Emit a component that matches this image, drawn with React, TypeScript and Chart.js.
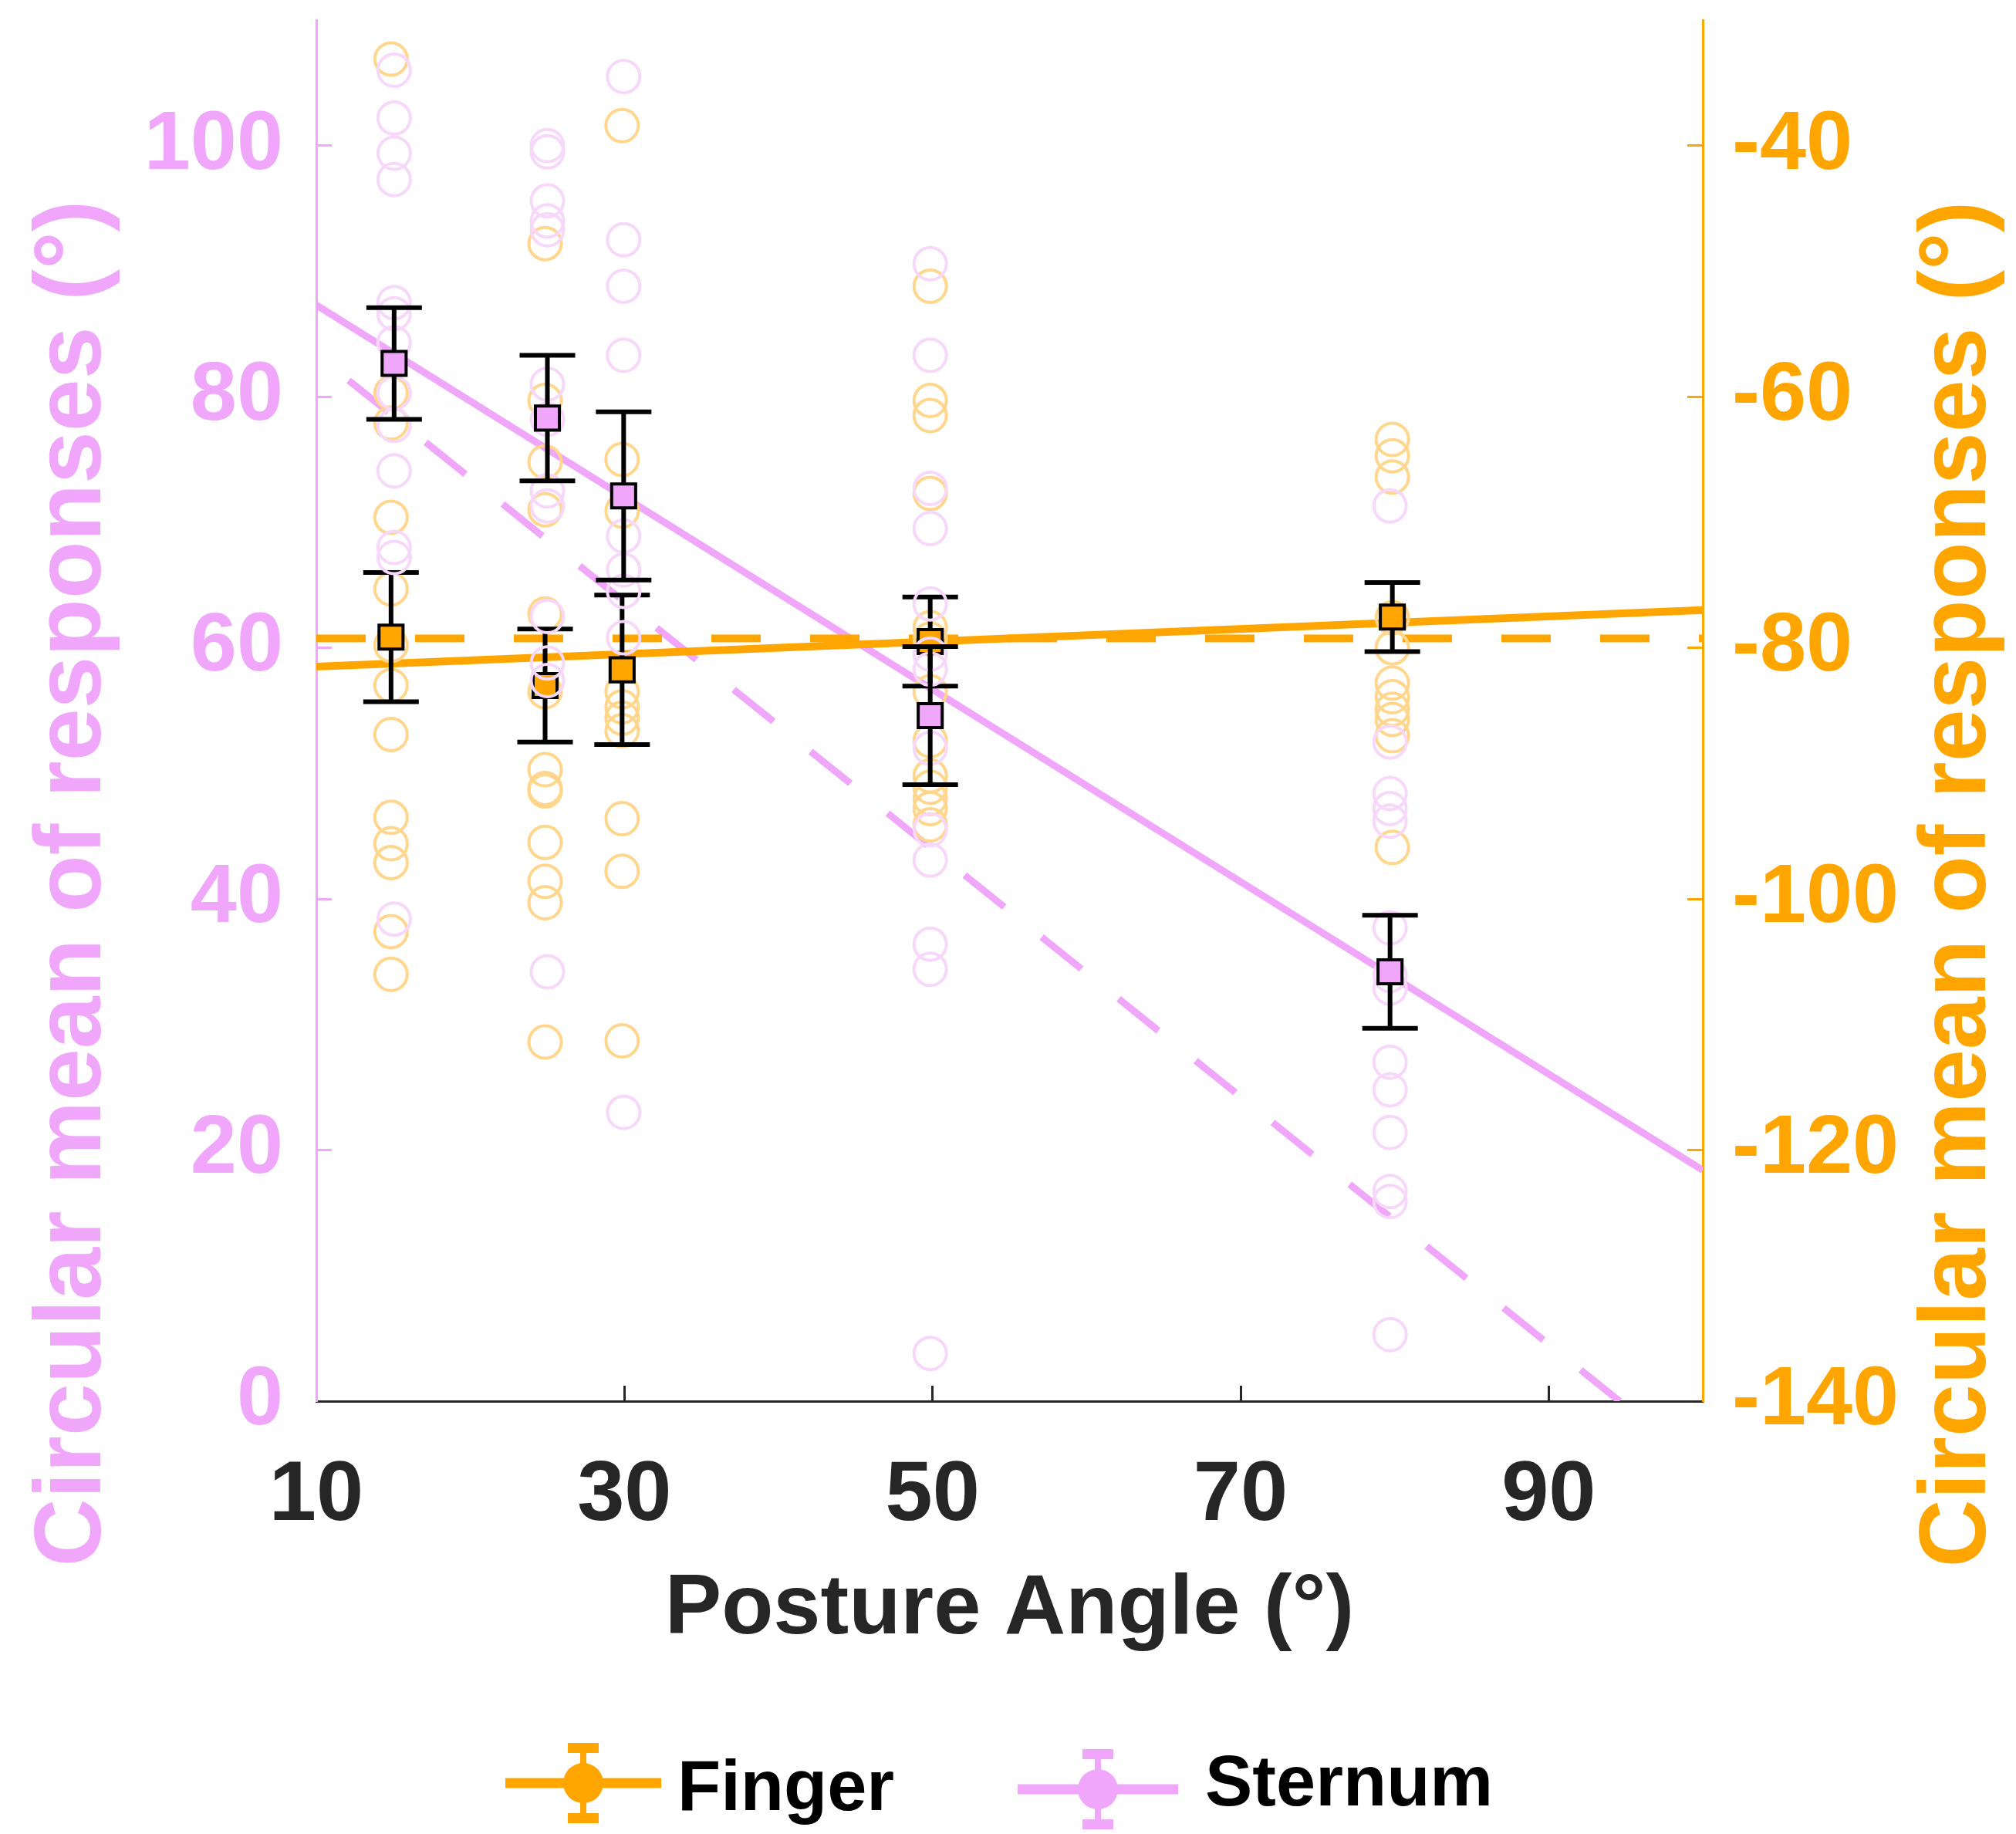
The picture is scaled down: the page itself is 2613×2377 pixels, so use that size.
import React, { useEffect, useRef } from 'react';
import { Chart, registerables } from 'chart.js';

Chart.register(...registerables);

const FONT = '"Liberation Sans", Arial, Helvetica, sans-serif';
const PINK = 'rgb(240,166,250)';
const ORANGE = 'rgb(255,165,0)';
const PINK_LIGHT = '#F7D8FB';
const ORANGE_LIGHT = '#FFD68C';
const DARK = '#262626';

// Axis ticks
const xTicks = [10, 30, 50, 70, 90];
const leftTicks = [0, 20, 40, 60, 80, 100];
const rightTicks = [-140, -120, -100, -80, -60, -40];

// Posture angles (slightly offset per series as in the figure)
const fingerX = [14.85, 24.85, 29.85, 49.85, 79.85];
const sternumX = [15.05, 25.0, 29.95, 49.85, 79.7];

// Circular means and error half-widths
const fingerMean = [-79.15, -83.0, -81.75, -79.5, -77.55];
const fingerErr = [5.15, 4.5, 5.95, 3.55, 2.75];
const sternumMean = [82.65, 78.3, 72.1, 54.6, 34.2];
const sternumErr = [4.45, 5.0, 6.7, 5.5, 4.5];

// Individual responses – Finger (right axis)
const finger15 = [-33.1, -59.7, -62.1, -69.6, -75.3, -79.8, -83.0, -86.9, -93.5, -95.6, -97.1, -102.6, -106.0];
const finger25 = [-47.8, -60.3, -65.2, -69.0, -77.3, -83.5, -89.7, -91.2, -91.4, -95.5, -98.6, -100.3, -111.4];
const finger30 = [-38.4, -65.0, -69.1, -83.5, -84.7, -85.6, -86.6, -93.6, -97.8, -111.3];
const finger50 = [-51.2, -60.3, -61.5, -67.7, -78.4, -79.3, -83.5, -87.4, -90.2, -91.1, -92.0, -92.8, -94.1];
const finger80 = [-63.4, -64.7, -66.4, -77.6, -80.0, -82.8, -83.9, -84.9, -85.7, -87.0, -95.9];

// Individual responses – Sternum (left axis)
const sternum15 = [106.0, 102.2, 99.4, 97.3, 87.5, 86.6, 84.3, 80.3, 77.7, 74.1, 68.0, 67.2, 38.4];
const sternum25 = [100.0, 99.5, 95.6, 94.0, 93.3, 81.0, 78.2, 72.5, 71.3, 62.5, 58.8, 57.4, 34.2];
const sternum30 = [105.5, 92.5, 88.8, 83.3, 68.9, 66.2, 64.5, 60.8, 23.0];
const sternum50 = [90.6, 83.3, 72.7, 69.5, 63.5, 59.5, 58.3, 52.0, 45.5, 43.1, 36.4, 34.4, 3.8];
const sternum80 = [71.3, 52.5, 48.4, 47.2, 46.2, 37.7, 33.9, 32.9, 27.0, 24.8, 21.4, 16.7, 15.9, 5.3];

const fingerResponses = [finger15, finger25, finger30, finger50, finger80];
const sternumResponses = [sternum15, sternum25, sternum30, sternum50, sternum80];

// Fit (solid) and reference (dashed) lines
const fingerFitX = [10, 100];
const fingerFitY = [-81.5, -77.0];
const fingerRefX = [10, 100];
const fingerRefY = [-79.25, -79.25];
const sternumFitX = [10, 100];
const sternumFitY = [87.3, 18.4];
const sternumRefX = [12.1, 94.6];
const sternumRefY = [81.3, 0];

const legendLabels = ['Finger', 'Sternum'];
const yTitle = 'Circular mean of responses (°)';
const xTitle = 'Posture Angle (°)';

const toPts = (xs: number[], ys: number[]) => xs.map((x, i) => ({ x, y: ys[i] }));
const spread = (xs: number[], groups: number[][]) =>
  groups.flatMap((g, i) => g.map((y) => ({ x: xs[i], y })));

const errorBarPlugin = {
  id: 'errorBars',
  beforeDatasetDraw(chart: any, args: any) {
    const ds = chart.data.datasets[args.index];
    if (!ds.errors) return;
    const xs = chart.scales.x;
    const ys = chart.scales[ds.yAxisID];
    const ctx = chart.ctx;
    ctx.save();
    ctx.strokeStyle = '#000';
    ctx.lineWidth = 6;
    ctx.lineCap = 'butt';
    ds.data.forEach((p: any, i: number) => {
      const px = xs.getPixelForValue(p.x);
      const top = ys.getPixelForValue(p.y + ds.errors[i]);
      const bot = ys.getPixelForValue(p.y - ds.errors[i]);
      ctx.beginPath();
      ctx.moveTo(px, top);
      ctx.lineTo(px, bot);
      ctx.moveTo(px - 36, top);
      ctx.lineTo(px + 36, top);
      ctx.moveTo(px - 36, bot);
      ctx.lineTo(px + 36, bot);
      ctx.stroke();
    });
    ctx.restore();
  },
};

const decorPlugin = {
  id: 'decor',
  afterDraw(chart: any) {
    const ctx = chart.ctx;
    // Y axis titles
    const drawV = (text: string, x: number, y: number, color: string) => {
      ctx.save();
      ctx.translate(x, y);
      ctx.rotate(-Math.PI / 2);
      ctx.font = `bold 122px ${FONT}`;
      ctx.fillStyle = color;
      ctx.textAlign = 'center';
      ctx.textBaseline = 'alphabetic';
      ctx.fillText(text, 0, 0);
      ctx.restore();
    };
    drawV(yTitle, 130, 1145, PINK);
    drawV(yTitle, 2573, 1146, ORANGE);

    // Legend
    const items = [
      { label: legendLabels[0], color: ORANGE, xc: 756, yc: 2311, x0: 655, x1: 857, tx: 878, ty: 2346 },
      { label: legendLabels[1], color: PINK, xc: 1423, yc: 2319, x0: 1319, x1: 1527, tx: 1562, ty: 2340 },
    ];
    items.forEach((it) => {
      ctx.save();
      ctx.strokeStyle = it.color;
      ctx.fillStyle = it.color;
      ctx.lineWidth = 13;
      ctx.beginPath();
      ctx.moveTo(it.x0, it.yc);
      ctx.lineTo(it.x1, it.yc);
      ctx.stroke();
      ctx.lineWidth = 8;
      ctx.beginPath();
      ctx.moveTo(it.xc, it.yc - 48);
      ctx.lineTo(it.xc, it.yc + 48);
      ctx.stroke();
      ctx.fillRect(it.xc - 20, it.yc - 52, 40, 13);
      ctx.fillRect(it.xc - 20, it.yc + 39, 40, 13);
      ctx.beginPath();
      ctx.arc(it.xc, it.yc, 26, 0, Math.PI * 2);
      ctx.fill();
      ctx.fillStyle = '#000';
      ctx.font = `bold 92px ${FONT}`;
      ctx.textAlign = 'left';
      ctx.textBaseline = 'alphabetic';
      ctx.fillText(it.label, it.tx, it.ty);
      ctx.restore();
    });
  },
};

export default function App() {
  const ref = useRef<HTMLCanvasElement | null>(null);

  useEffect(() => {
    if (!ref.current) return;
    const tickFont = { family: FONT, size: 108, weight: 'bold' as const };
    const noPad = (s: any) => {
      s.paddingTop = 0;
      s.paddingBottom = 0;
      s.paddingLeft = 0;
      s.paddingRight = 0;
    };
    const chart = new Chart(ref.current, {
      type: 'scatter',
      data: {
        datasets: [
          {
            type: 'scatter',
            label: 'Sternum',
            data: toPts(sternumX, sternumMean),
            errors: sternumErr,
            yAxisID: 'y',
            order: 0,
            pointStyle: 'rect',
            pointRadius: 22,
            pointHoverRadius: 22,
            backgroundColor: PINK,
            borderColor: '#000',
            borderWidth: 4,
          } as any,
          {
            type: 'scatter',
            label: 'Sternum responses',
            data: spread(sternumX, sternumResponses),
            yAxisID: 'y',
            order: 1,
            pointStyle: 'circle',
            pointRadius: 21,
            pointHoverRadius: 21,
            backgroundColor: 'rgba(0,0,0,0)',
            borderColor: PINK_LIGHT,
            borderWidth: 4,
          },
          {
            type: 'scatter',
            label: 'Finger',
            data: toPts(fingerX, fingerMean),
            errors: fingerErr,
            yAxisID: 'y1',
            order: 2,
            pointStyle: 'rect',
            pointRadius: 22,
            pointHoverRadius: 22,
            backgroundColor: ORANGE,
            borderColor: '#000',
            borderWidth: 4,
          } as any,
          {
            type: 'scatter',
            label: 'Finger responses',
            data: spread(fingerX, fingerResponses),
            yAxisID: 'y1',
            order: 3,
            pointStyle: 'circle',
            pointRadius: 21,
            pointHoverRadius: 21,
            backgroundColor: 'rgba(0,0,0,0)',
            borderColor: ORANGE_LIGHT,
            borderWidth: 4,
          },
          {
            type: 'line',
            label: 'Finger fit',
            data: toPts(fingerFitX, fingerFitY),
            yAxisID: 'y1',
            order: 4,
            borderColor: ORANGE,
            borderWidth: 10,
            pointRadius: 0,
            fill: false,
          },
          {
            type: 'line',
            label: 'Finger reference',
            data: toPts(fingerRefX, fingerRefY),
            yAxisID: 'y1',
            order: 5,
            borderColor: ORANGE,
            borderWidth: 10,
            borderDash: [64, 64],
            pointRadius: 0,
            fill: false,
          },
          {
            type: 'line',
            label: 'Sternum fit',
            data: toPts(sternumFitX, sternumFitY),
            yAxisID: 'y',
            order: 6,
            borderColor: PINK,
            borderWidth: 9,
            pointRadius: 0,
            fill: false,
          },
          {
            type: 'line',
            label: 'Sternum reference',
            data: toPts(sternumRefX, sternumRefY),
            yAxisID: 'y',
            order: 7,
            borderColor: PINK,
            borderWidth: 9,
            borderDash: [66, 62],
            pointRadius: 0,
            fill: false,
          },
        ],
      },
      options: {
        responsive: false,
        animation: false,
        devicePixelRatio: 1,
        layout: { padding: { top: 20, left: 0, right: 0, bottom: 0 } },
        plugins: { legend: { display: false }, tooltip: { enabled: false } },
        scales: {
          x: {
            type: 'linear',
            position: 'bottom',
            min: 10,
            max: 100,
            afterBuildTicks: (s: any) => {
              s.ticks = xTicks.map((v) => ({ value: v }));
            },
            afterFit: (s: any) => {
              s.height = 561;
              noPad(s);
            },
            grid: { drawOnChartArea: false, drawTicks: true, tickLength: -20, tickWidth: 3, tickColor: DARK },
            border: { display: true, color: DARK, width: 3 },
            ticks: { color: DARK, font: { family: FONT, size: 110, weight: 'bold' }, padding: 78, maxRotation: 0, autoSkip: false },
            title: {
              display: true,
              text: xTitle,
              color: DARK,
              font: { family: FONT, size: 110, weight: 'bold' },
              padding: { top: 0, bottom: 224 },
            },
          },
          y: {
            type: 'linear',
            position: 'left',
            min: 0,
            max: 110,
            afterBuildTicks: (s: any) => {
              s.ticks = leftTicks.map((v) => ({ value: v }));
            },
            afterFit: (s: any) => {
              s.width = 410;
              noPad(s);
            },
            grid: { drawOnChartArea: false, drawTicks: true, tickLength: -20, tickWidth: 3, tickColor: PINK },
            border: { display: true, color: PINK, width: 3 },
            ticks: { color: PINK, font: tickFont, padding: 63, autoSkip: false },
          },
          y1: {
            type: 'linear',
            position: 'right',
            min: -140,
            max: -30,
            afterBuildTicks: (s: any) => {
              s.ticks = rightTicks.map((v) => ({ value: v }));
            },
            afterFit: (s: any) => {
              s.width = 406;
              noPad(s);
            },
            grid: { drawOnChartArea: false, drawTicks: true, tickLength: -20, tickWidth: 3, tickColor: ORANGE },
            border: { display: true, color: ORANGE, width: 3 },
            ticks: { color: ORANGE, font: tickFont, padding: 58, autoSkip: false },
          },
        },
      } as any,
      plugins: [errorBarPlugin, decorPlugin],
    });
    return () => chart.destroy();
  }, []);

  return (
    <canvas
      ref={ref}
      width={2613}
      height={2377}
      style={{ position: 'absolute', left: 0, top: 0, width: 2613, height: 2377, display: 'block' }}
    />
  );
}
